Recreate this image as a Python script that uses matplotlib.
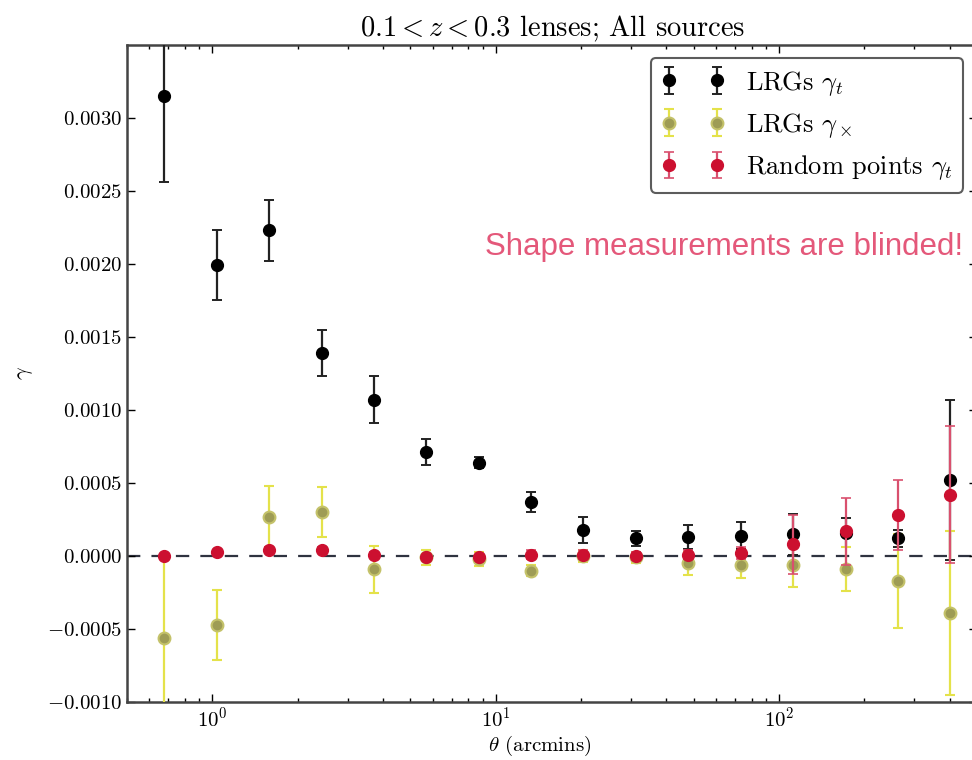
import numpy as np
import matplotlib
matplotlib.use("Agg")
import matplotlib.pyplot as plt

# 字体：仿 Computer Modern 风格
plt.rcParams['font.family'] = 'serif'
plt.rcParams['font.serif'] = ['cmr10', 'DejaVu Serif']
plt.rcParams['mathtext.fontset'] = 'cm'
plt.rcParams['axes.formatter.use_mathtext'] = True
plt.rcParams['axes.unicode_minus'] = True

# 角距离 theta (arcmin)
theta = [0.676, 1.035, 1.585, 2.43, 3.72, 5.69, 8.71, 13.3, 20.4, 31.3,
         47.8, 73.2, 112.0, 172.0, 263.0, 402.0]

# LRGs gamma_t
gt_lrg = [0.00315, 0.00199, 0.00223, 0.00139, 0.00107, 0.00071, 0.00064, 0.00037,
          0.00018, 0.00012, 0.00013, 0.00014, 0.00015, 0.00016, 0.00012, 0.00052]
gt_lrg_err = [0.00059, 0.00024, 0.00021, 0.00016, 0.00016, 0.00009, 0.00004, 0.00007,
              0.00009, 0.00005, 0.00008, 0.00009, 0.00014, 0.00010, 0.00006, 0.00055]

# LRGs gamma_x
gx_lrg = [-0.00056, -0.00047, 0.00027, 0.00030, -0.00009, -0.00001, -0.00002, -0.00010,
          0.00000, -0.00001, -0.00005, -0.00006, -0.00006, -0.00009, -0.00017, -0.00039]
gx_lrg_err = [0.00055, 0.00024, 0.00021, 0.00017, 0.00016, 0.00005, 0.00005, 0.00004,
              0.00004, 0.00004, 0.00008, 0.00009, 0.00015, 0.00015, 0.00032, 0.00056]

# 随机点 gamma_t
gt_rand = [0.00000, 0.00003, 0.00004, 0.00004, 0.00001, -0.00001, -0.00001, 0.00001,
           0.00001, 0.00000, 0.00001, 0.00002, 0.00008, 0.00017, 0.00028, 0.00042]
gt_rand_err = [0.00001, 0.00001, 0.00002, 0.00002, 0.00002, 0.00002, 0.00002, 0.00003,
               0.00003, 0.00003, 0.00003, 0.00004, 0.00020, 0.00023, 0.00024, 0.00047]

fig = plt.figure(figsize=(9.72, 7.6), dpi=100)
ax = fig.add_axes([0.1307, 0.0763, 0.8745, 0.8645])

# 零线
ax.axhline(0.0, color='#2f3340', linewidth=1.6, dashes=(6, 5), zorder=1)

ax.errorbar(theta, gt_lrg, yerr=gt_lrg_err, fmt='o', color='k', ecolor='#222222',
            markersize=8.5, elinewidth=1.6, capsize=3.5, capthick=1.4,
            label=r'LRGs $\gamma_t$', zorder=3)
ax.errorbar(theta, gx_lrg, yerr=gx_lrg_err, fmt='o', markerfacecolor='#9e9c55',
            markeredgecolor='#c4c26a', markeredgewidth=1.5, ecolor='#e4e24a',
            markersize=8.5, elinewidth=1.6, capsize=3.5, capthick=1.2,
            label=r'LRGs $\gamma_\times$', zorder=3)
ax.errorbar(theta, gt_rand, yerr=gt_rand_err, fmt='o', color='#cc1030', ecolor='#d9506e',
            markersize=8.5, elinewidth=1.6, capsize=3.5, capthick=1.2,
            label=r'Random points $\gamma_t$', zorder=4)

ax.set_xscale('log')
ax.set_xlim(0.5, 500)
ax.set_ylim(-0.001, 0.0035)
ax.set_yticks(np.arange(-0.001, 0.00301, 0.0005))
ax.yaxis.set_major_formatter(matplotlib.ticker.FormatStrFormatter(r'$%.4f$'))

ax.tick_params(which='both', direction='in', top=True, right=True, labelsize=15)
ax.tick_params(which='major', length=6, width=1)
ax.tick_params(which='minor', length=3, width=1)
for sp in ax.spines.values():
    sp.set_linewidth(1.8)
    sp.set_color('#444444')

ax.set_title(r'$0.1 < z < 0.3$ lenses; All sources', fontsize=20.5, pad=6, x=0.50)
ax.set_xlabel(r'$\theta$ (arcmins)', fontsize=15)
ax.set_ylabel(r'$\gamma$', fontsize=16)
ax.xaxis.set_label_coords(0.486, -0.049)
ax.yaxis.set_label_coords(-0.108, 0.5)

leg = ax.legend(loc='upper right', bbox_to_anchor=(0.9835, 0.980), borderaxespad=0,
                numpoints=2, fontsize=19, fancybox=True, handlelength=2.4)
leg.get_frame().set_edgecolor('#333333')
leg.get_frame().set_linewidth(1.5)

ax.text(0.9835, 0.6925, 'Shape measurements are blinded!', transform=ax.transAxes,
        ha='right', va='center', color='#e4587a', fontsize=22.5,
        family=['Liberation Sans', 'DejaVu Sans'])

plt.savefig('out.png', dpi=100)
